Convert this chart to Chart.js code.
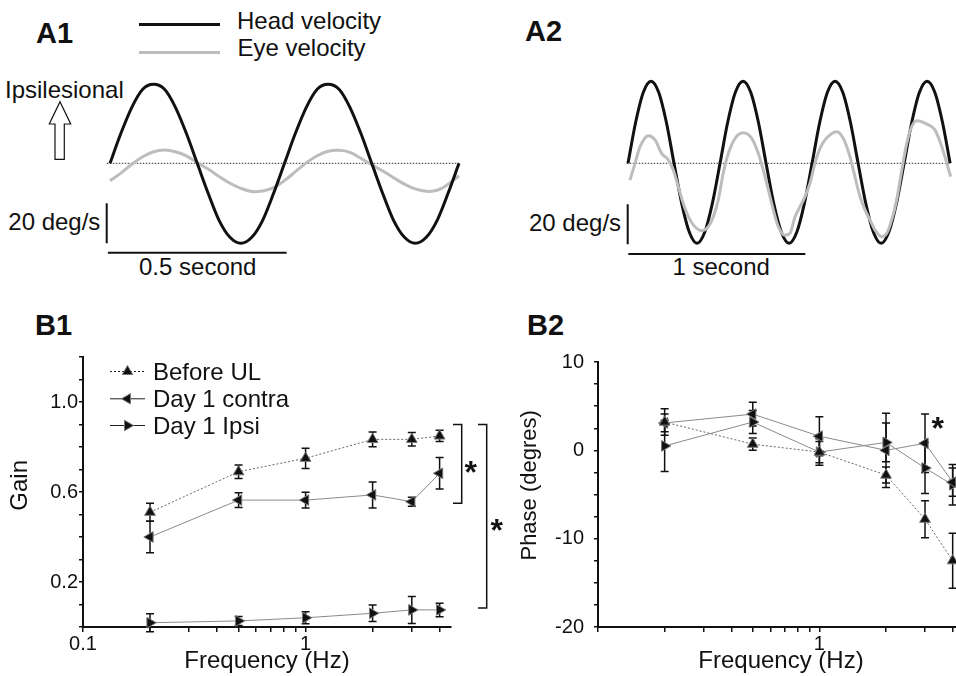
<!DOCTYPE html>
<html><head><meta charset="utf-8"><title>Head/eye velocity, gain and phase</title>
<script src="https://cdn.jsdelivr.net/npm/chart.js@4.4.1/dist/chart.umd.min.js"></script>
<style>
html,body{margin:0;padding:0;background:#fff;overflow:hidden}
body{position:relative;width:956px;height:676px}
.t{position:absolute;white-space:nowrap;font-family:'Liberation Sans',Arial,Helvetica,sans-serif;color:#111;line-height:1;font-size:24px}
.b{font-weight:bold;font-size:29px}
canvas{position:absolute}
.sw{position:absolute;height:3px;width:81px;left:139px}
</style></head><body>
<script>
// ---------------- DATA ----------------
// A1: time (ms) and velocity (deg/s)
const a1Time = [0, 30.5, 61, 91.5, 122, 152.5, 183, 213.5, 244, 274.5, 305, 335.5, 366, 396.5, 427, 457.5, 488,
                518.5, 549, 579.5, 610, 640.5, 671, 701.5, 732, 762.5, 793, 823.5, 854, 884.5, 915, 945.5, 976];
const a1Head = [0, 15, 28, 37, 39.5, 37, 28, 15, 0, -15, -28.5, -37, -40, -37, -28.5, -15, 0,
                15, 28, 37, 39.5, 37, 28, 15, 0, -15, -28.5, -37, -40, -37, -28.5, -15, 0];
const a1Eye  = [-8.7, -4.9, -0.5, 3.3, 5.8, 6.6, 5.8, 3.7, 0.3, -2.9, -6.6, -10.0, -12.5, -14.1, -13.8, -12.2, -8.6,
                -4.2, 0.2, 3.8, 6.0, 6.5, 5.5, 2.5, -0.8, -3.8, -7.2, -10.4, -12.8, -14.0, -13.5, -10.5, -6.2];
const a1ZeroTime = [-9, 976];
const a1BarTime = [-6, 494];      // 0.5 second bar
const a1BarLevel = -44.7;
const a1VBarTime = -9.2;
const a1VBarRange = [-20, -40];   // 20 deg/s bar

// A2
const a2HeadTime = [0, 43.3, 86.7, 130, 173.3, 216.7, 260, 303.3, 346.7, 390, 433.3, 476.7, 520, 563.3, 606.7, 650,
                    693.3, 736.7, 780, 823.3, 866.7, 910, 953.3, 996.7, 1040, 1083.3, 1126.7, 1170, 1213.3, 1256.7,
                    1300, 1343.3, 1386.7, 1430, 1473.3, 1516.7, 1560, 1603.3, 1646.7, 1690, 1733.3, 1776.7, 1820];
const a2Head = [0, 20.5, 35.5, 41, 35.5, 20.5, 0, -20, -34.5, -40, -34.5, -20,
                0, 20.5, 35.5, 41, 35.5, 20.5, 0, -20, -34.5, -40, -34.5, -20,
                0, 20.5, 35.5, 41, 35.5, 20.5, 0, -20, -34.5, -40, -34.5, -20,
                0, 20.5, 35.5, 41, 35.5, 20.5, 0];
const a2EyeTime = [11, 40, 68, 115, 153, 190, 228, 256, 284, 312, 341, 369, 416, 454, 482, 510, 538, 567, 605, 651,
                   699, 736, 764, 793, 821, 849, 887, 915, 944, 972, 1000, 1028, 1056, 1085, 1113, 1179, 1216, 1254, 1282, 1311,
                   1339, 1367, 1395, 1433, 1462, 1490, 1518, 1547, 1575, 1603, 1631, 1697, 1734, 1773, 1801, 1823];
const a2Eye = [-8.4, 0, 8.3, 13.8, 11.7, 5.0, 1.7, -3.3, -11.7, -20, -26.7, -30.8, -33.7, -31.7, -26.7, -18.3, -5, 5, 12.5, 15.3,
               12.5, 5, -3.3, -13.3, -23.3, -31.7, -36, -35, -26.7, -21.7, -16.7, -10, 0, 7.5, 11.7, 15.8, 12.5, 3.3, -6.7, -16.7,
               -23.3, -28.3, -33.3, -36.7, -35, -28.3, -18.3, -3.3, 10, 18.3, 21.3, 19.2, 16.7, 8.3, 0, -6.7];
const a2ZeroTime = [-7, 1820];
const a2BarTime = [2, 1002];      // 1 second bar
const a2BarLevel = -45.3;
const a2VBarTime = -1.7;
const a2VBarRange = [-20.5, -40.5];

// B: frequencies (Hz)
const freqs = [0.2, 0.5, 1, 2, 3, 4];
const seriesNames = ['Before UL', 'Day 1 contra', 'Day 1 Ipsi'];
// B1 gain
const gainBefore = [0.51, 0.69, 0.75, 0.834, 0.834, 0.849];
const gainBeforeErr = [0.04, 0.03, 0.045, 0.033, 0.03, 0.025];
const gainContra = [0.40, 0.564, 0.564, 0.587, 0.557, 0.683];
const gainContraErr = [0.07, 0.033, 0.035, 0.058, 0.02, 0.07];
const gainIpsi = [0.019, 0.027, 0.041, 0.061, 0.076, 0.076];
const gainIpsiErr = [0.04, 0.02, 0.027, 0.037, 0.06, 0.03];
// B2 phase (degrees)
const phaseBefore = [3.2, 0.7, -0.2, -2.8, -7.8, -12.5];
const phaseBeforeErr = [1.5, 0.7, 1.5, 0.9, 2.1, 3.1];
const phaseContra = [3.1, 4.1, 1.6, 0.0, 0.8, -3.6];
const phaseContraErr = [1.0, 1.35, 2.2, 4.2, 3.3, 1.6];
const phaseIpsi = [0.5, 3.2, -0.2, 0.9, -2.0, -3.9];
const phaseIpsiErr = [2.9, 1.3, 1.2, 2.2, 2.9, 2.3];

// ticks
const freqTicks = [0.1, 0.2, 0.3, 0.4, 0.5, 0.6, 0.7, 0.8, 0.9, 1, 2, 3, 4];
const b1FreqLabels = [0.1, 1];
const b2FreqLabels = [1];
const gainTicks = [0, 0.1, 0.2, 0.3, 0.4, 0.5, 0.6, 0.7, 0.8, 0.9, 1.0, 1.1, 1.2];
const gainLabels = [0.2, 0.6, 1.0];
const phaseTicks = [-20, -17.5, -15, -12.5, -10, -7.5, -5, -2.5, 0, 2.5, 5, 7.5, 10];
const phaseLabels = [-20, -10, 0, 10];
// significance brackets (gain values) and stars
const b1Brackets = [[0.9, 0.55], [0.9, 0.085]];
const b1StarLevels = [0.712, 0.458];
const b2StarLevel = 3.16;
</script>

<div class="t b" style="left:36px;top:18.8px">A1</div>
<div class="sw" style="top:22.8px;background:#111"></div>
<div class="sw" style="top:50.8px;background:#bdbdbd"></div>
<div class="t" style="left:237px;top:9.2px">Head velocity</div>
<div class="t" style="left:237.5px;top:36.4px">Eye velocity</div>
<div class="t" style="left:5px;top:78px">Ipsilesional</div>
<svg style="position:absolute;left:45px;top:98px" width="32" height="66">
  <polygon points="15,3.7 25.7,26 19.3,26 19.3,61.3 10,61.3 10,26 4.3,26" fill="#fff" stroke="#111" stroke-width="1.2"/>
</svg>
<div class="t" style="left:8.3px;top:210.4px">20 deg/s</div>
<div class="t" style="left:139px;top:254.7px">0.5 second</div>

<div class="t b" style="left:525px;top:17.2px">A2</div>
<div class="t" style="left:529px;top:211.4px">20 deg/s</div>
<div class="t" style="left:672.5px;top:254.7px">1 second</div>

<div class="t b" style="left:35px;top:310.5px">B1</div>
<div class="t b" style="left:527px;top:310.5px">B2</div>

<canvas id="cA1" width="375" height="205" style="left:95px;top:65px"></canvas>
<canvas id="cA2" width="345" height="205" style="left:615px;top:65px"></canvas>
<canvas id="cB1" width="520" height="336" style="left:0px;top:340px"></canvas>
<canvas id="cB2" width="480" height="336" style="left:500px;top:340px"></canvas>

<script>
Chart.defaults.font.family = "'Liberation Sans', Arial, Helvetica, sans-serif";
Chart.defaults.color = '#111';

const pts = (xs, ys) => xs.map((x, i) => ({x: x, y: ys[i]}));

// ---------- A panels ----------
function traceChart(id, xmin, xmax, datasets) {
  return new Chart(document.getElementById(id), {
    type: 'line',
    data: {datasets: datasets},
    options: {
      responsive: false, animation: false, events: [],
      layout: {padding: 0},
      plugins: {legend: {display: false}, tooltip: {enabled: false}},
      elements: {point: {radius: 0}},
      scales: {
        x: {type: 'linear', display: false, min: xmin, max: xmax},
        y: {type: 'linear', display: false, min: -53.35, max: 49.15}
      }
    }
  });
}
function traceSets(headT, head, eyeT, eye, zeroT, barT, barLevel, vbarT, vbarRange, eyeOnTop, eyeSmooth) {
  const headDs = {label: 'Head velocity', data: pts(headT, head), borderColor: '#111', borderWidth: 3,
    cubicInterpolationMode: 'monotone', clip: false};
  const eyeDs = {label: 'Eye velocity', data: pts(eyeT, eye), borderColor: '#bdbdbd', borderWidth: 3, clip: false};
  if (eyeSmooth) { eyeDs.tension = 0.4; } else { eyeDs.cubicInterpolationMode = 'monotone'; }
  const others = [
    {label: 'zero', data: pts(zeroT, [0, 0]), borderColor: '#333', borderWidth: 1, borderDash: [1.5, 1.5], clip: false},
    {label: 'time bar', data: pts(barT, [barLevel, barLevel]), borderColor: '#111', borderWidth: 2, clip: false},
    {label: 'velocity bar', data: pts([vbarT, vbarT], vbarRange), borderColor: '#111', borderWidth: 2, clip: false}
  ];
  return (eyeOnTop ? [eyeDs, headDs] : [headDs, eyeDs]).concat(others);
}
traceChart('cA1', -41.95, 1006.8,
  traceSets(a1Time, a1Head, a1Time, a1Eye, a1ZeroTime, a1BarTime, a1BarLevel, a1VBarTime, a1VBarRange, false, true));
traceChart('cA2', -73.45, 1875.7,
  traceSets(a2HeadTime, a2Head, a2EyeTime, a2Eye, a2ZeroTime, a2BarTime, a2BarLevel, a2VBarTime, a2VBarRange, true, false));

// ---------- B panels ----------
function triangle(ctx, x, y, r, rotDeg) {
  let rad = rotDeg * Math.PI / 180;
  ctx.beginPath();
  ctx.moveTo(x + Math.sin(rad) * r, y - Math.cos(rad) * r);
  rad += 2 * Math.PI / 3;
  ctx.lineTo(x + Math.sin(rad) * r, y - Math.cos(rad) * r);
  rad += 2 * Math.PI / 3;
  ctx.lineTo(x + Math.sin(rad) * r, y - Math.cos(rad) * r);
  ctx.closePath();
  ctx.fill();
  ctx.stroke();
}
const errorBarPlugin = {
  id: 'errorBars',
  beforeDatasetsDraw(chart) {
    const ctx = chart.ctx, xs = chart.scales.x, ys = chart.scales.y;
    ctx.save();
    ctx.strokeStyle = '#111';
    ctx.lineWidth = 1.5;
    chart.data.datasets.forEach(ds => {
      if (!ds.errors) return;
      ds.data.forEach((p, i) => {
        const e = ds.errors[i];
        const px = xs.getPixelForValue(p.x);
        const y1 = ys.getPixelForValue(p.y + e), y2 = ys.getPixelForValue(p.y - e);
        ctx.beginPath();
        ctx.moveTo(px, y1); ctx.lineTo(px, y2);
        ctx.moveTo(px - 4, y1); ctx.lineTo(px + 4, y1);
        ctx.moveTo(px - 4, y2); ctx.lineTo(px + 4, y2);
        ctx.stroke();
      });
    });
    ctx.restore();
  }
};
function makeLegendPlugin(x1, x2, textX, baselines) {
  return {
    id: 'lineLegend',
    afterDraw(chart) {
      const ctx = chart.ctx;
      ctx.save();
      chart.data.datasets.forEach((ds, i) => {
        const yb = baselines[i], ym = yb - 8.5;
        ctx.strokeStyle = '#222';
        ctx.lineWidth = 1;
        ctx.setLineDash(ds.borderDash || []);
        ctx.beginPath(); ctx.moveTo(x1, ym); ctx.lineTo(x2, ym); ctx.stroke();
        ctx.setLineDash([]);
        ctx.fillStyle = '#111'; ctx.strokeStyle = '#777'; ctx.lineWidth = 1;
        triangle(ctx, (x1 + x2) / 2, ym, 6, ds.pointRotation || 0);
        ctx.fillStyle = '#111';
        ctx.font = "24px 'Liberation Sans', Arial, sans-serif";
        ctx.textAlign = 'left'; ctx.textBaseline = 'alphabetic';
        ctx.fillText(ds.label, textX, yb);
      });
      ctx.restore();
    }
  };
}
function makeMarksPlugin(brackets, bracketXs, stars) {
  return {
    id: 'marks',
    afterDraw(chart) {
      const ctx = chart.ctx, ys = chart.scales.y;
      ctx.save();
      ctx.strokeStyle = '#111'; ctx.lineWidth = 1.5;
      brackets.forEach((b, i) => {
        const [xv, xa] = bracketXs[i];
        const yt = ys.getPixelForValue(b[0]), yb = ys.getPixelForValue(b[1]);
        ctx.beginPath();
        ctx.moveTo(xa, yt); ctx.lineTo(xv, yt); ctx.lineTo(xv, yb); ctx.lineTo(xa, yb);
        ctx.stroke();
      });
      ctx.fillStyle = '#111';
      ctx.font = "bold 32px 'Liberation Sans', Arial, sans-serif";
      ctx.textAlign = 'center'; ctx.textBaseline = 'alphabetic';
      stars.forEach(s => {
        const yc = ys.getPixelForValue(s[1]);
        ctx.fillText('*', s[0], yc + 0.52 * 32);
      });
      ctx.restore();
    }
  };
}
function seriesSets(vals, errs) {
  const rot = [0, -90, 90];
  return vals.map((v, i) => ({
    label: seriesNames[i],
    data: pts(freqs, v),
    errors: errs[i],
    borderColor: i === 0 ? '#666' : '#8a8a8a',
    borderWidth: 1,
    borderDash: i === 0 ? [2, 2] : [],
    pointStyle: 'triangle',
    pointRotation: rot[i],
    pointRadius: 6.2,
    pointBackgroundColor: '#111',
    pointBorderColor: '#777',
    pointBorderWidth: 1,
    tension: 0,
    clip: false
  }));
}
function freqChart(id, o, extraPlugins) {
  return new Chart(document.getElementById(id), {
    type: 'line',
    data: {datasets: o.datasets},
    options: {
      responsive: false, animation: false, events: [],
      layout: {padding: o.padding},
      plugins: {legend: {display: false}, tooltip: {enabled: false}},
      scales: {
        x: {
          type: 'logarithmic', min: 0.1, max: 4.5,
          afterBuildTicks: s => { s.ticks = freqTicks.map(v => ({value: v})); },
          afterFit: s => { s.height = 49; },
          ticks: {autoSkip: false, maxRotation: 0, minRotation: 0, padding: 0, font: {size: 20},
                  callback: v => o.xLabels.includes(v) ? String(v) : ''},
          grid: {drawOnChartArea: false, drawTicks: true, tickLength: 5, color: '#111', lineWidth: 1.5},
          border: {display: true, color: '#111', width: 2},
          title: {display: true, text: 'Frequency (Hz)', font: {size: 24}, padding: {top: 0, bottom: 0}}
        },
        y: {
          type: 'linear', min: o.yMin, max: o.yMax,
          afterBuildTicks: s => { s.ticks = o.yTicks.map(v => ({value: v})); },
          afterFit: s => { s.width = o.yWidth; },
          ticks: {autoSkip: false, padding: o.yPad, font: {size: 20}, callback: o.yFmt},
          grid: {drawOnChartArea: false, drawTicks: true, tickLength: 4, color: '#111', lineWidth: 1.5},
          border: {display: true, color: '#111', width: 2},
          title: {display: true, text: o.yTitle, font: {size: o.yTitleSize}, padding: {top: o.yTitlePad, bottom: 0}}
        }
      }
    },
    plugins: [errorBarPlugin].concat(extraPlugins)
  });
}

freqChart('cB1', {
  datasets: seriesSets([gainBefore, gainContra, gainIpsi], [gainBeforeErr, gainContraErr, gainIpsiErr]),
  padding: {left: 0, top: 17, right: 69, bottom: 0},
  xLabels: b1FreqLabels,
  yMin: 0, yMax: 1.2, yTicks: gainTicks, yWidth: 83, yPad: 1,
  yFmt: v => gainLabels.includes(v) ? v.toFixed(1) : '',
  yTitle: '  Gain', yTitleSize: 24, yTitlePad: 6.4
}, [
  makeLegendPlugin(110, 145, 153, [40, 67.3, 94]),
  makeMarksPlugin(b1Brackets, [[461.7, 453], [486.7, 478]], [[470.7, b1StarLevels[0]], [496.7, b1StarLevels[1]]])
]);

freqChart('cB2', {
  datasets: seriesSets([phaseBefore, phaseContra, phaseIpsi], [phaseBeforeErr, phaseContraErr, phaseIpsiErr]),
  padding: {left: 0, top: 16, right: 16, bottom: 0},
  xLabels: b2FreqLabels,
  yMin: -20, yMax: 10, yTicks: phaseTicks, yWidth: 98, yPad: 10,
  yFmt: v => phaseLabels.includes(v) ? String(v) : '',
  yTitle: '   Phase (degres)', yTitleSize: 22, yTitlePad: 16.8
}, [
  makeMarksPlugin([], [], [[437.7, b2StarLevel]])
]);
</script>
</body></html>
